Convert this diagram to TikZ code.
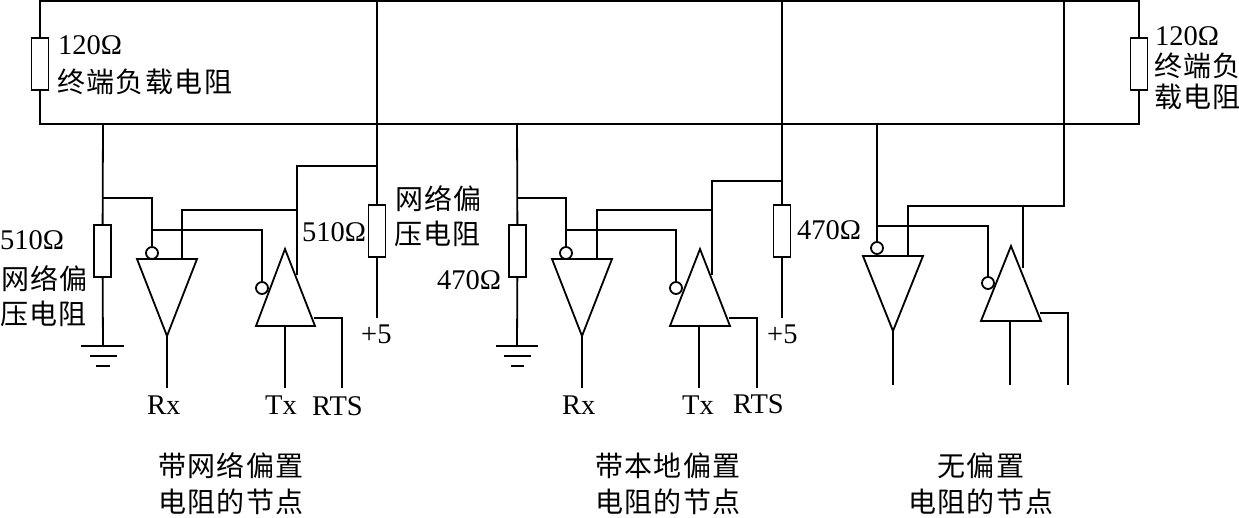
\documentclass[tikz,border=0pt]{standalone}
\usepackage{fontspec}
\setmainfont{Liberation Serif}
\newfontfamily\cjk[LetterSpace=5]{Noto Sans CJK SC}
\tikzset{
    wire/.style={line width=1.8pt},
    res/.style={draw, line width=1.8pt, fill=white, minimum width=17pt, minimum height=52pt, inner sep=0pt},
    bub/.style={circle, draw, line width=1.8pt, fill=white, minimum size=12pt, inner sep=0pt},
    lab/.style={inner sep=0pt, anchor=west, font=\fontsize{28.5}{28.5}\selectfont},
    cn/.style={inner sep=0pt, anchor=west, font=\fontsize{28}{28}\selectfont\cjk},
    captxt/.style={inner sep=0pt, font=\fontsize{28}{28}\selectfont\cjk}
}
\begin{document}
\begin{tikzpicture}[x=1pt, y=-1pt]
    \useasboundingbox (0,0) rectangle (1239,517);

    % Bus
    \coordinate (tl) at (40,1);
    \coordinate (br) at (1139,124);
    \node[res] (rt1) at (40,64) {};
    \node[res] (rt2) at (1139,64) {};
    \draw[wire] (rt1) -- (tl) -| (rt2);
    \draw[wire] (rt1) |- (br) -- (rt2);

    % Node with network bias
    \coordinate (a0) at (103,124);
    \coordinate (b0) at (377,1);
    \node[res] (ra1) at (102.5,251) {};
    \node[res] (ra2) at (377,231) {};
    \node[bub] (ba1) at (152,253) {};
    \node[bub] (ba2) at (262,288) {};
    \coordinate (ua1) at (137,259);
    \coordinate (ua2) at (197,259);
    \coordinate (ua3) at (167,336);
    \coordinate (va1) at (285,249);
    \coordinate (va2) at (256,326);
    \coordinate (va3) at (315,326);
    \coordinate (va4) at (285,326);
    \draw[wire] (ua1) -- (ua2) -- (ua3) -- cycle;
    \draw[wire] (va1) -- (va2) -- (va3) -- cycle;
    \coordinate (ga) at (103,346);
    \coordinate (pa) at (377,318);
    \coordinate (ja1) at (103,198);
    \coordinate (ja2) at (152,230);
    \coordinate (ja3) at (377,166);
    \coordinate (ja4) at (297,210);
    \coordinate (ea1) at (297,275);
    \coordinate (ea2) at (182,259);
    \coordinate (ea3) at (167,388);
    \coordinate (ea4) at (285,388);
    \coordinate (ea5) at (314,318);
    \coordinate (ea6) at (342,388);
    \draw[wire] (a0) -- (ra1) -- (ga);
    \draw[wire] (b0) -- (ra2) -- (pa);
    \draw[wire] (ja1) -| (ba1);
    \draw[wire] (ja2) -| (ba2);
    \draw[wire] (ja3) -| (ea1);
    \draw[wire] (ja4) -| (ea2);
    \draw[wire] (ua3) -- (ea3);
    \draw[wire] (va4) -- (ea4);
    \draw[wire] (ea5) -| (ea6);
    % Ground
    \coordinate (ga1) at (81,346);
    \coordinate (ga2) at (124,346);
    \coordinate (ga3) at (90,356);
    \coordinate (ga4) at (117,356);
    \coordinate (ga5) at (96,366);
    \coordinate (ga6) at (110,366);
    \draw[wire] (ga1) -- (ga2);
    \draw[wire] (ga3) -- (ga4);
    \draw[wire] (ga5) -- (ga6);

    % Node with local bias
    \coordinate (a1) at (517,124);
    \coordinate (b1) at (782,1);
    \node[res] (rb1) at (517.5,251) {};
    \node[res] (rb2) at (782,231) {};
    \node[bub] (bb1) at (566,253) {};
    \node[bub] (bb2) at (676,288) {};
    \coordinate (ub1) at (552,259);
    \coordinate (ub2) at (612,259);
    \coordinate (ub3) at (582,336);
    \coordinate (vb1) at (700,249);
    \coordinate (vb2) at (670,326);
    \coordinate (vb3) at (730,326);
    \coordinate (vb4) at (699,326);
    \draw[wire] (ub1) -- (ub2) -- (ub3) -- cycle;
    \draw[wire] (vb1) -- (vb2) -- (vb3) -- cycle;
    \coordinate (gb) at (517,346);
    \coordinate (pb) at (782,318);
    \coordinate (jb1) at (517,198);
    \coordinate (jb2) at (566,230);
    \coordinate (jb3) at (782,181);
    \coordinate (jb4) at (712,210);
    \coordinate (eb1) at (712,275);
    \coordinate (eb2) at (597,259);
    \coordinate (eb3) at (582,388);
    \coordinate (eb4) at (699,388);
    \coordinate (eb5) at (729,318);
    \coordinate (eb6) at (757,388);
    \draw[wire] (a1) -- (rb1) -- (gb);
    \draw[wire] (b1) -- (rb2) -- (pb);
    \draw[wire] (jb1) -| (bb1);
    \draw[wire] (jb2) -| (bb2);
    \draw[wire] (jb3) -| (eb1);
    \draw[wire] (jb4) -| (eb2);
    \draw[wire] (ub3) -- (eb3);
    \draw[wire] (vb4) -- (eb4);
    \draw[wire] (eb5) -| (eb6);
    % Ground
    \coordinate (gb1) at (496,346);
    \coordinate (gb2) at (538,346);
    \coordinate (gb3) at (504,356);
    \coordinate (gb4) at (531,356);
    \coordinate (gb5) at (511,366);
    \coordinate (gb6) at (524,366);
    \draw[wire] (gb1) -- (gb2);
    \draw[wire] (gb3) -- (gb4);
    \draw[wire] (gb5) -- (gb6);

    % Node without bias
    \coordinate (a2) at (877,124);
    \coordinate (b2) at (1064,1);
    \node[bub] (bc1) at (877,248) {};
    \node[bub] (bc2) at (988,283) {};
    \coordinate (uc1) at (863,256);
    \coordinate (uc2) at (923,256);
    \coordinate (uc3) at (893,331);
    \coordinate (vc1) at (1011,246);
    \coordinate (vc2) at (981,321);
    \coordinate (vc3) at (1041,321);
    \coordinate (vc4) at (1010,321);
    \draw[wire] (uc1) -- (uc2) -- (uc3) -- cycle;
    \draw[wire] (vc1) -- (vc2) -- (vc3) -- cycle;
    \coordinate (jc1) at (877,226);
    \coordinate (jc2) at (1064,206);
    \coordinate (jc3) at (1023,206);
    \coordinate (ec1) at (908,256);
    \coordinate (ec2) at (1023,268);
    \coordinate (ec3) at (893,385);
    \coordinate (ec4) at (1010,385);
    \coordinate (ec5) at (1040,313);
    \coordinate (ec6) at (1068,385);
    \draw[wire] (a2) -- (bc1);
    \draw[wire] (jc1) -| (bc2);
    \draw[wire] (b2) -- (jc2) -| (ec1);
    \draw[wire] (jc3) -- (ec2);
    \draw[wire] (uc3) -- (ec3);
    \draw[wire] (vc4) -- (ec4);
    \draw[wire] (ec5) -| (ec6);

    % Labels
    \node[lab] (t1) at (58,45) {120Ω};
    \node[cn] (t2) at (57,82) {终端负载电阻};
    \node[lab] (t3) at (1155,36) {120Ω};
    \node[cn] (t4) at (1154,66) {终端负};
    \node[cn] (t5) at (1154,97) {载电阻};
    \node[lab] (t6) at (0,240) {510Ω};
    \node[cn] (t7) at (1,279) {网络偏};
    \node[cn] (t8) at (0,314) {压电阻};
    \node[lab] (t9) at (302,232) {510Ω};
    \node[cn] (t10) at (395,199) {网络偏};
    \node[cn] (t11) at (394,234) {压电阻};
    \node[lab] (t12) at (437,280) {470Ω};
    \node[lab] (t13) at (797,230) {470Ω};
    \node[lab] (t14) at (361,334) {+5};
    \node[lab] (t15) at (767,334) {+5};
    \node[lab] (t16) at (147,405) {Rx};
    \node[lab] (t17) at (265,405) {Tx};
    \node[lab] (t18) at (312,406) {RTS};
    \node[lab] (t19) at (562,405) {Rx};
    \node[lab] (t20) at (682,405) {Tx};
    \node[lab] (t21) at (733,404) {RTS};
    \node[captxt] (c1) at (231,466) {带网络偏置};
    \node[captxt] (c2) at (231,502) {电阻的节点};
    \node[captxt] (c3) at (668,466) {带本地偏置};
    \node[captxt] (c4) at (668,502) {电阻的节点};
    \node[captxt] (c5) at (981,466) {无偏置};
    \node[captxt] (c6) at (981,502) {电阻的节点};
\end{tikzpicture}
\end{document}
